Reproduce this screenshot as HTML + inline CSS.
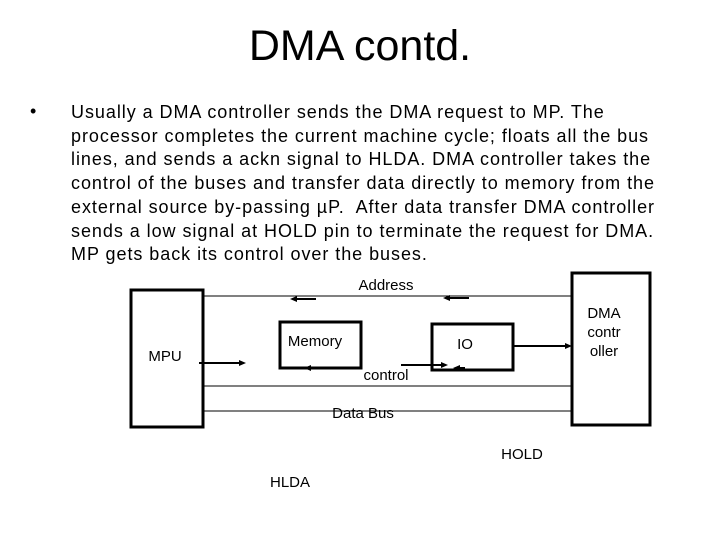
<!DOCTYPE html>
<html><head><style>
body{margin:0;width:720px;height:540px;background:#fff;font-family:"Liberation Sans",Arial,sans-serif;position:relative;overflow:hidden}
.t{position:absolute;white-space:nowrap;color:#000}
</style></head><body>
<div class="t" style="left:0;width:720px;text-align:center;top:22px;font-size:43px">DMA contd.</div>
<div class="t" style="left:30px;top:101px;font-size:18px">•</div>
<div class="t" style="left:71px;top:101px;font-size:18px;line-height:23.7px;letter-spacing:0.95px">Usually a DMA controller sends the DMA request to MP. The<br>processor completes the current machine cycle; floats all the bus<br>lines, and sends a ackn signal to HLDA. DMA controller takes the<br>control of the buses and transfer data directly to memory from the<br>external source by-passing µP.&nbsp; After data transfer DMA controller<br>sends a low signal at HOLD pin to terminate the request for DMA.<br>MP gets back its control over the buses.</div>
<svg width="720" height="540" style="position:absolute;left:0;top:0" font-family="Liberation Sans, Arial, sans-serif" font-size="15">
<g fill="none" stroke="#000">
<rect x="131" y="290" width="72" height="137" stroke-width="3"/>
<rect x="572" y="273" width="78" height="152" stroke-width="3"/>
<rect x="280" y="322" width="81" height="46" stroke-width="3"/>
<rect x="432" y="324" width="81" height="46" stroke-width="3"/>
<line x1="203" y1="296" x2="572" y2="296" stroke-width="1"/>
<line x1="203" y1="386" x2="572" y2="386" stroke-width="1"/>
<line x1="203" y1="411" x2="572" y2="411" stroke-width="1"/>
<g stroke-width="2">
<line x1="295" y1="299" x2="316" y2="299"/>
<line x1="448" y1="298" x2="469" y2="298"/>
<line x1="199" y1="363" x2="240" y2="363"/>
<line x1="307" y1="368" x2="312" y2="368"/>
<line x1="401" y1="365" x2="443" y2="365"/>
<line x1="457" y1="368" x2="465" y2="368"/>
<line x1="513" y1="346" x2="566" y2="346"/>
</g></g>
<g fill="#000">
<polygon points="290,299 297,296 297,302"/>
<polygon points="443,298 450,295 450,301"/>
<polygon points="246,363 239,360 239,366"/>
<polygon points="304,368 311,365 311,371"/>
<polygon points="448,365 441,362 441,368"/>
<polygon points="453,368 460,365 460,371"/>
<polygon points="572,346 565,343 565,349"/>
<text x="386" y="290" text-anchor="middle">Address</text>
<text x="165" y="361" text-anchor="middle">MPU</text>
<text x="315" y="346" text-anchor="middle">Memory</text>
<text x="465" y="349" text-anchor="middle">IO</text>
<text x="604" y="318" text-anchor="middle">DMA</text>
<text x="604" y="337" text-anchor="middle">contr</text>
<text x="604" y="356" text-anchor="middle">oller</text>
<text x="386" y="380" text-anchor="middle">control</text>
<text x="363" y="418" text-anchor="middle">Data Bus</text>
<text x="522" y="459" text-anchor="middle">HOLD</text>
<text x="290" y="487" text-anchor="middle">HLDA</text>
</g>
</svg>
</body></html>
